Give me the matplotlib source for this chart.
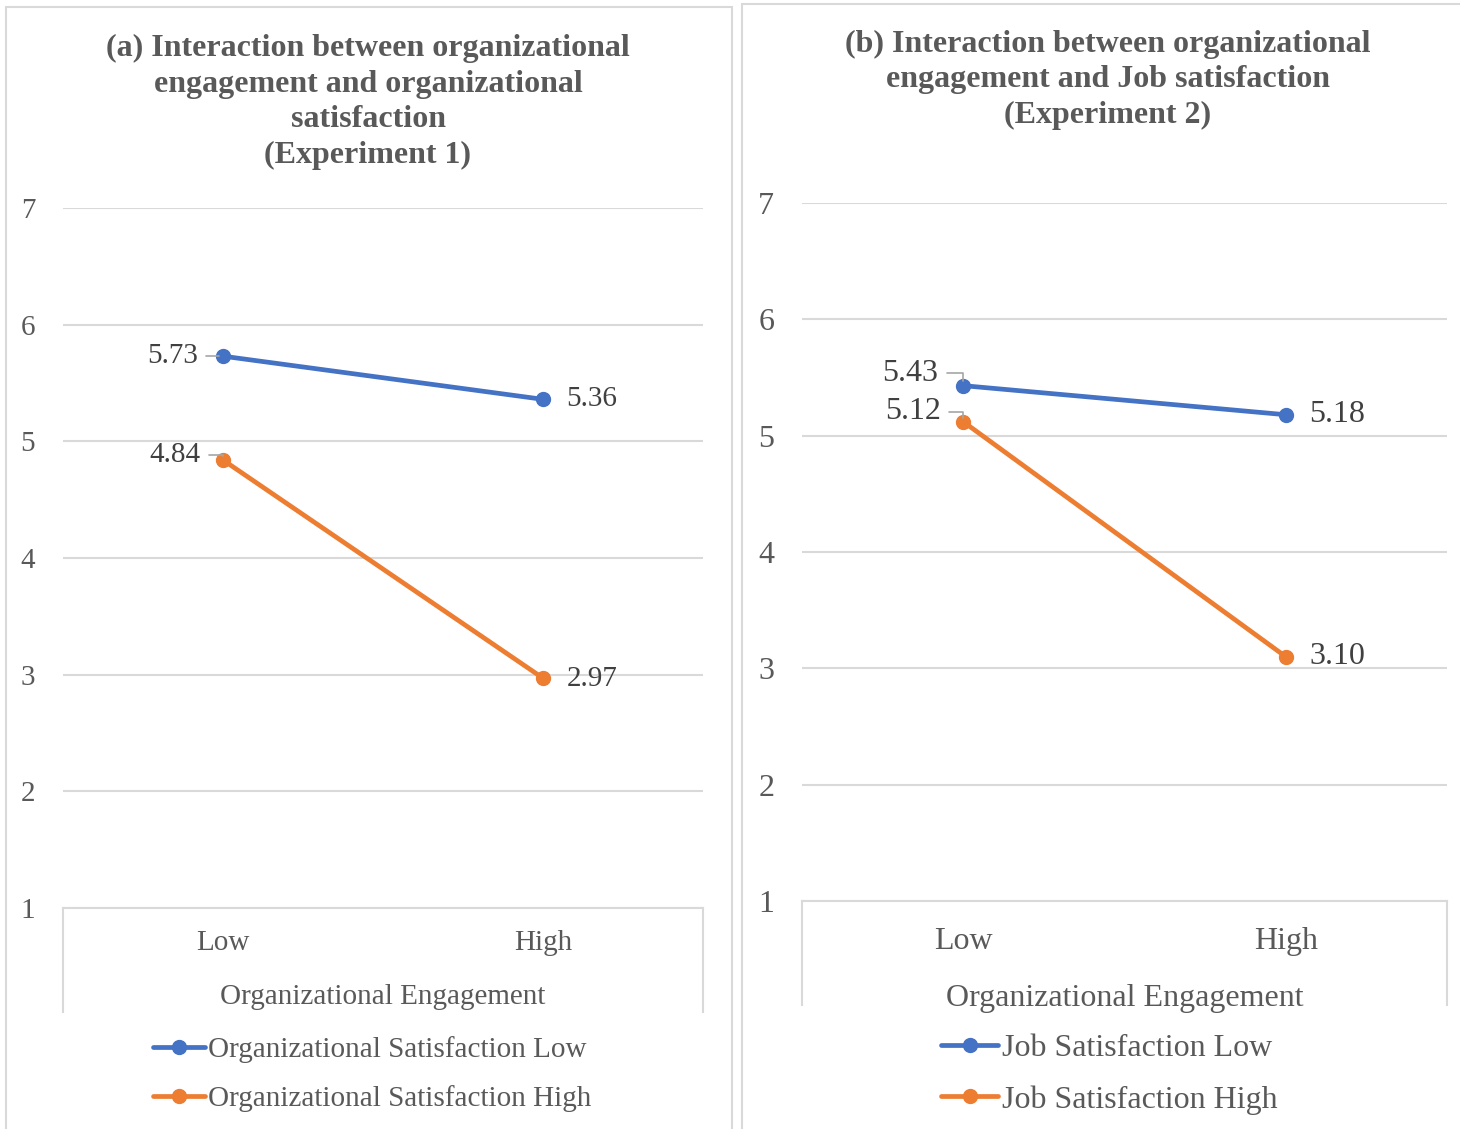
import numpy as np
import matplotlib.pyplot as plt
from matplotlib.patches import Rectangle
from matplotlib.lines import Line2D

plt.rcParams['font.family'] = ['Liberation Serif', 'DejaVu Serif']

# data
categories = ['Low', 'High']
exp1_sat_low = [5.73, 5.36]
exp1_sat_high = [4.84, 2.97]
exp2_sat_low = [5.43, 5.18]
exp2_sat_high = [5.12, 3.10]
yticks = [1, 2, 3, 4, 5, 6, 7]

title_a = '(a) Interaction between organizational\nengagement and organizational\nsatisfaction\n(Experiment 1)'
title_b = '(b) Interaction between organizational\nengagement and Job satisfaction\n(Experiment 2)'
labels_a = ['Organizational Satisfaction Low', 'Organizational Satisfaction High']
labels_b = ['Job Satisfaction Low', 'Job Satisfaction High']
xlabel = 'Organizational Engagement'

BLUE = '#4472C4'
ORANGE = '#ED7D31'
GRID = '#D9D9D9'
TXT = '#595959'
DTXT = '#404040'

W, H = 1460, 1129
fig = plt.figure(figsize=(W / 100, H / 100), dpi=100)


def fx(px):
    return px / W


def fy(py):
    return 1 - py / H


# chart area borders
fig.patches.append(Rectangle((fx(6), fy(1140)), fx(726), fy(7) - fy(1140),
                             transform=fig.transFigure, fill=False,
                             edgecolor=GRID, linewidth=1.5))
fig.patches.append(Rectangle((fx(742), fy(1140)), fx(740), fy(4) - fy(1140),
                             transform=fig.transFigure, fill=False,
                             edgecolor=GRID, linewidth=1.5))


def panel(rect, title, title_xy, low, high, labels, leg_xy, lab_offsets,
          fs, xpad, lpad, lspace):
    l, t, r, b = rect
    ax = fig.add_axes([fx(l), fy(b), fx(r - l), fy(t) - fy(b)])
    x = np.arange(len(categories))
    ax.set_xlim(-0.5, 1.5)
    ax.set_ylim(1, 7)
    ax.set_yticks(yticks)
    ax.yaxis.grid(True, color=GRID, linewidth=1.5)
    ax.set_axisbelow(True)
    for s in ['top', 'right', 'left']:
        ax.spines[s].set_visible(False)
    ax.spines['bottom'].set_color(GRID)
    ax.spines['bottom'].set_linewidth(1.5)
    ax.tick_params(axis='y', length=0, pad=20, labelsize=fs, labelcolor=TXT)
    ax.tick_params(axis='x', length=0, pad=xpad, labelsize=fs, labelcolor=TXT)
    ax.set_xticks(x)
    ax.set_xticklabels(categories)
    ax.set_xlabel(xlabel, fontsize=fs, color=TXT, labelpad=lpad)

    # category box sides
    for xs in (0, 1):
        ax.add_line(Line2D([xs, xs], [0, -104 / (b - t)], transform=ax.transAxes,
                           color=GRID, linewidth=1.5, clip_on=False))

    handles = []
    for vals, col, lab in zip([low, high], [BLUE, ORANGE], labels):
        h, = ax.plot(x, vals, color=col, linewidth=3.4, marker='o', markersize=10,
                     solid_capstyle='round', label=lab)
        handles.append(h)

    # data labels
    for vals, offs in zip([low, high], lab_offsets):
        (dx0, dy0), (dx1, dy1) = offs
        ax.annotate(f'{vals[0]:.2f}', xy=(x[0], vals[0]), xytext=(dx0, dy0),
                    textcoords='offset points', ha='right', va='center',
                    fontsize=fs, color=DTXT,
                    arrowprops=dict(arrowstyle='-', color='#A6A6A6', linewidth=1.2,
                                    connectionstyle='angle,angleA=0,angleB=90,rad=0',
                                    shrinkA=4, shrinkB=3, relpos=(1, 0.5)))
        ax.annotate(f'{vals[1]:.2f}', xy=(x[1], vals[1]), xytext=(dx1, dy1),
                    textcoords='offset points', ha='left', va='center',
                    fontsize=fs, color=DTXT)

    fig.text(fx(title_xy[0]), fy(title_xy[1]), title, ha='center', va='center',
             fontsize=23, fontweight='bold', color=TXT, linespacing=1.3)

    fig.legend(handles=handles, loc='center',
               bbox_to_anchor=(fx(leg_xy[0]), fy(leg_xy[1])),
               frameon=False, fontsize=fs, handlelength=1.8, handletextpad=0.1,
               labelspacing=lspace, labelcolor=TXT)
    return ax


panel((63, 208, 703, 908), title_a, (368, 102), exp1_sat_low, exp1_sat_high,
      labels_a, (372, 1074),
      [((-18, 0), (17, 0)), ((-16, 3.5), (17, -0.5))],
      21, 16, 20, 0.74)
panel((802, 203, 1447, 901), title_b, (1108, 80), exp2_sat_low, exp2_sat_high,
      labels_b, (1109, 1074),
      [((-18, 9), (17, 0)), ((-16, 7), (17, 0))],
      23, 19, 20, 0.7)

fig.savefig('out.png', dpi=100)
